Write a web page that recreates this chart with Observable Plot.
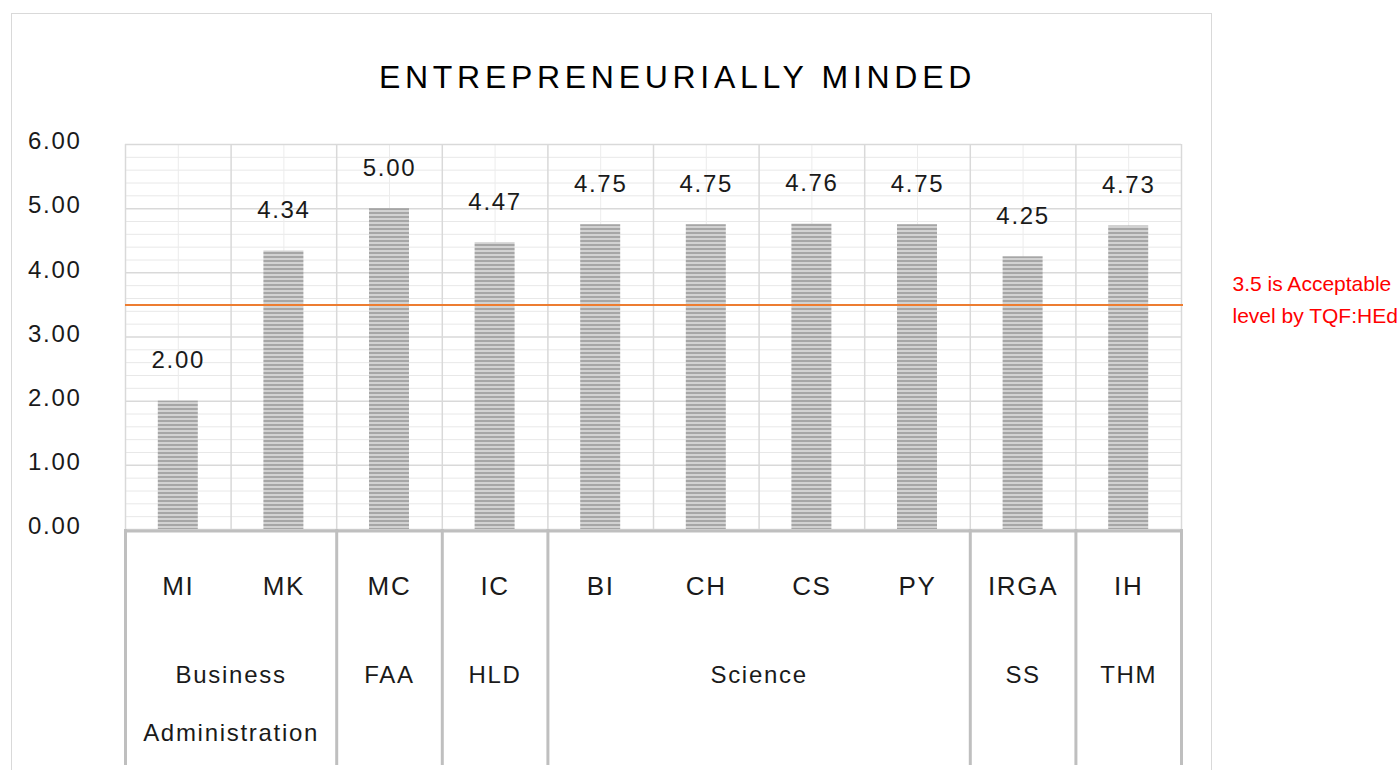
<!DOCTYPE html>
<html><head><meta charset="utf-8">
<script src="https://cdn.jsdelivr.net/npm/d3@7"></script>
<script src="https://cdn.jsdelivr.net/npm/@observablehq/plot@0.6"></script>
<style>
body{margin:0;background:#fff;}
#wrap{position:relative;width:1399px;height:770px;overflow:hidden;background:#fff;}
#chart{position:absolute;left:0;top:0;}
#border{position:absolute;left:11px;top:13px;width:1199px;height:800px;border:1.5px solid #d9d9d9;pointer-events:none;}
#chart svg text{letter-spacing:1.7px;}
#chart g[font-size="32"] text{letter-spacing:4.7px;}
#chart g[font-size="21"] text{letter-spacing:0;}
</style></head><body>
<div id="wrap"><div id="chart"></div><div id="border"></div></div>
<script>
const title = "ENTREPRENEURIALLY MINDED";
const categories = ["MI", "MK", "MC", "IC", "BI", "CH", "CS", "PY", "IRGA", "IH"];
const values = [2.00, 4.34, 5.00, 4.47, 4.75, 4.75, 4.76, 4.75, 4.25, 4.73];
const groups = ["Business Administration", "Business Administration", "FAA", "HLD",
  "Science", "Science", "Science", "Science", "SS", "THM"];
const yTicks = [0, 1, 2, 3, 4, 5, 6];
const threshold = 3.5;
const thresholdNote = "3.5 is Acceptable\nlevel by TQF:HEd";

const n = categories.length;
const rows = categories.map((c, i) => ({cat: c, value: values[i], group: groups[i], i}));
const groupSpans = [];
rows.forEach(r => {
  const last = groupSpans[groupSpans.length - 1];
  if (last && last.group === r.group) last.end = r.i + 1;
  else groupSpans.push({group: r.group, start: r.i, end: r.i + 1});
});
const boundaries = [0, ...groupSpans.map(g => g.end)];
const minorY = d3.range(0, 30).map(k => k / 5).filter(v => !Number.isInteger(v));

const W = 1399, H = 770, mL = 125, mR = 218, mT = 144, mB = 241;
const frameH = H - mT - mB;
const font = "'Liberation Sans', Arial, Helvetica, sans-serif";

const plot = Plot.plot({
  width: W, height: H,
  marginLeft: mL, marginRight: mR, marginTop: mT, marginBottom: mB,
  x: {domain: [0, n], axis: null},
  y: {domain: [0, 6], axis: null},
  style: {fontFamily: font, color: "#1a1a1a", background: "transparent", overflow: "visible"},
  marks: [
    Plot.ruleY(minorY, {stroke: "#e8e8e8", strokeWidth: 1}),
    Plot.ruleX(d3.range(n).map(i => i + 0.5), {stroke: "#ececec", strokeWidth: 1}),
    Plot.ruleY(yTicks, {stroke: "#d9d9d9", strokeWidth: 1.5}),
    Plot.ruleX(d3.range(n + 1), {stroke: "#d9d9d9", strokeWidth: 1.5}),
    Plot.rect(rows, {x1: "i", x2: d => d.i + 1, y1: 0, y2: "value",
      fill: "url(#stripes)", insetLeft: 32.8, insetRight: 32.8}),
    Plot.ruleY([threshold], {stroke: "#ed7d31", strokeWidth: 2, insetRight: -2}),
    Plot.text(rows, {x: d => d.i + 0.5, y: "value", text: d => d3.format(".2f")(d.value),
      lineAnchor: "bottom", dy: -33, fontSize: 24, fill: "#1a1a1a"}),
    Plot.axisY({ticks: yTicks, tickFormat: ".2f", tickSize: 0, tickPadding: 44,
      fontSize: 24, dy: -3, label: null}),
    Plot.ruleY([0], {stroke: "#bfbfbf", strokeWidth: 3, dy: 1.5, insetRight: -2}),
    Plot.ruleX(boundaries, {stroke: "#bfbfbf", strokeWidth: 3, insetTop: frameH, insetBottom: -236}),
    Plot.text(rows, {x: d => d.i + 0.5, text: "cat", frameAnchor: "bottom",
      lineAnchor: "bottom", dy: 65, fontSize: 26, fill: "#1a1a1a"}),
    Plot.text(groupSpans, {x: d => (d.start + d.end) / 2, text: "group", frameAnchor: "bottom",
      lineAnchor: "top", dy: 112, lineWidth: 8, lineHeight: 2.42, fontSize: 24, fill: "#1a1a1a"}),
    Plot.text([title], {text: d => d, frameAnchor: "top", lineAnchor: "bottom",
      dy: -57, dx: 24, fontSize: 32, fill: "#000"}),
    Plot.text([thresholdNote], {text: d => d, y: [threshold], frameAnchor: "right",
      textAnchor: "start", lineAnchor: "bottom", dx: 51, dy: 18, lineHeight: 1.52,
      fontSize: 21, fill: "#ff0000"})
  ]
});

const defs = document.createElementNS("http://www.w3.org/2000/svg", "defs");
defs.innerHTML = '<pattern id="stripes" patternUnits="userSpaceOnUse" width="4" height="4">' +
  '<rect width="4" height="4" fill="#d2d2d2"></rect>' +
  '<rect width="4" height="2" fill="#a6a6a6"></rect></pattern>';
plot.prepend(defs);
document.getElementById("chart").appendChild(plot);
</script>
</body></html>
